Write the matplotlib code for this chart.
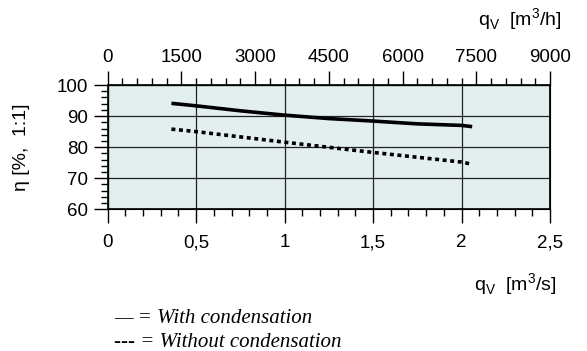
import numpy as np
import matplotlib
matplotlib.use('Agg')
import matplotlib.pyplot as plt
from matplotlib.ticker import MultipleLocator

plt.rcParams['font.family'] = ['Liberation Sans', 'DejaVu Sans']
plt.rcParams['mathtext.fontset'] = 'custom'
plt.rcParams['mathtext.rm'] = 'Liberation Sans'

# airflow in m3/s and efficiency in %
q_with = [0.36, 0.5, 0.75, 1.0, 1.25, 1.5, 1.75, 2.0, 2.06]
eta_with = [94.1, 93.3, 91.7, 90.3, 89.2, 88.4, 87.5, 87.0, 86.6]

q_without = [0.36, 0.5, 1.0, 1.5, 2.0, 2.06]
eta_without = [85.8, 85.0, 81.6, 78.3, 75.2, 74.5]

xticks = [0, 0.5, 1, 1.5, 2, 2.5]
xtick_labels = ['0', '0,5', '1', '1,5', '2', '2,5']
top_ticks = [0, 1500, 3000, 4500, 6000, 7500, 9000]
yticks = [60, 70, 80, 90, 100]

fig = plt.figure(figsize=(5.87, 3.51), dpi=100)
ax = fig.add_axes([0.1835, 0.4037, 0.7535, 0.3541])
ax.set_facecolor('#e2efee')

ax.plot(q_with, eta_with, color='black', lw=2.6, solid_capstyle='butt')
ax.plot(q_without, eta_without, color='black', lw=2.6, linestyle=(0, (1.1, 1.0)))

ax.set_xlim(0, 2.5)
ax.set_ylim(60, 100)
ax.set_xticks(xticks)
ax.set_xticklabels(xtick_labels)
ax.xaxis.set_minor_locator(MultipleLocator(0.1))
ax.set_yticks(yticks)
ax.yaxis.set_minor_locator(MultipleLocator(2))
ax.grid(True, which='major', color='#222222', lw=0.9)

ax.tick_params(which='major', direction='out', length=10, width=1, labelsize=13.5, pad=8)
ax.tick_params(which='minor', direction='out', length=5, width=1)
ax.tick_params(axis='y', pad=4)
for s in ax.spines.values():
    s.set_linewidth(1.2)

ax2 = ax.twiny()
ax2.set_xlim(0, 9000)
ax2.set_xticks(top_ticks)
ax2.xaxis.set_minor_locator(MultipleLocator(300))
ax2.tick_params(which='major', direction='out', length=10, width=1, labelsize=13.5, pad=4)
ax2.tick_params(which='minor', direction='out', length=5, width=1)

fig.text(0.036, 0.58, 'η [%,  1:1]', fontsize=14, rotation=90, ha='center', va='center')
fig.text(0.815, 0.945, r'q$_\mathregular{V}$  [m$^\mathregular{3}$/h]', fontsize=14,
         ha='left', va='center')
fig.text(0.808, 0.19, r'q$_\mathregular{V}$  [m$^\mathregular{3}$/s]', fontsize=14,
         ha='left', va='center')

fig.text(0.195, 0.093, '— = With condensation', fontsize=15, style='italic',
         family='Liberation Serif', va='center')
fig.text(0.195, 0.024, '--- = Without condensation', fontsize=15, style='italic',
         family='Liberation Serif', va='center')

fig.savefig('out.png', dpi=100)
